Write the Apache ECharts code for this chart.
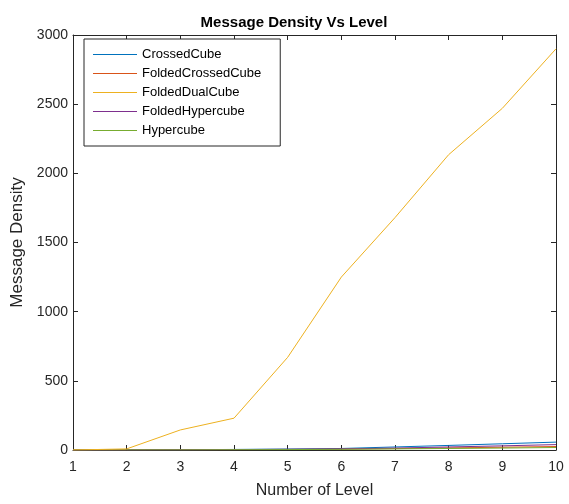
<!DOCTYPE html>
<html>
<head>
<meta charset="utf-8">
<script src="https://cdn.jsdelivr.net/npm/echarts@6/dist/echarts.min.js"></script>
<style>html,body{margin:0;padding:0;background:#fff;}#c{width:569px;height:504px;}</style>
</head>
<body>
<div id="c"></div>
<script>
var levels = [1, 2, 3, 4, 5, 6, 7, 8, 9, 10];
var crossedCube = [0, 1, 2, 4, 7, 11, 22, 33, 45, 57];
var foldedCrossedCube = [0, 1, 2, 3, 4, 6, 10, 15, 20, 25];
var foldedDualCube = [0, 8, 145, 230, 670, 1250, 1680, 2135, 2470, 2900];
var foldedHypercube = [0, 1, 2, 3, 5, 8, 14, 22, 30, 39];
var hypercube = [0, 1, 1, 2, 3, 5, 8, 11, 14, 18];
var seriesNames = ['CrossedCube', 'FoldedCrossedCube', 'FoldedDualCube', 'FoldedHypercube', 'Hypercube'];
var colors = ['#0072BD', '#D95319', '#EDB120', '#7E2F8E', '#77AC30'];

function pairs(arr) { return levels.map(function (x, i) { return [x, arr[i]]; }); }
var allData = [crossedCube, foldedCrossedCube, foldedDualCube, foldedHypercube, hypercube];

var font = 'Liberation Sans, Arial, Helvetica, sans-serif';
var axisColor = '#262626';
var chart = echarts.init(document.getElementById('c'));
var baseAxis = {
  axisLine: { show: true, onZero: false, lineStyle: { color: axisColor, width: 1 } },
  axisTick: { show: true, inside: true, length: 5, lineStyle: { color: axisColor } },
  splitLine: { show: false }
};
chart.setOption({
  animation: false,
  color: colors,
  title: {
    text: 'Message Density Vs Level',
    left: 289, top: 10, textAlign: 'center',
    textStyle: { fontFamily: font, fontSize: 15, fontWeight: 'bold', color: '#000' }
  },
  grid: { left: 73, right: 13, top: 35, bottom: 54 },
  legend: {
    orient: 'vertical', left: 84, top: 39,
    data: seriesNames,
    icon: 'rect',
    itemWidth: 44, itemHeight: 1, itemGap: 6,
    padding: [9, 19, 9, 9],
    borderColor: axisColor, borderWidth: 1, backgroundColor: '#fff',
    textStyle: { fontFamily: font, fontSize: 13, lineHeight: 13, color: '#000' }
  },
  xAxis: [
    Object.assign({}, baseAxis, {
      type: 'value', min: 1, max: 10, interval: 1, position: 'bottom',
      name: 'Number of Level', nameLocation: 'middle', nameGap: 33,
      nameTextStyle: { fontFamily: font, fontSize: 16, color: axisColor },
      axisLabel: { fontFamily: font, fontSize: 14, color: axisColor, margin: 10 }
    }),
    Object.assign({}, baseAxis, {
      type: 'value', min: 1, max: 10, interval: 1, position: 'top',
      axisLabel: { show: false }
    })
  ],
  yAxis: [
    Object.assign({}, baseAxis, {
      type: 'value', min: 0, max: 3000, interval: 500, position: 'left',
      name: 'Message Density', nameLocation: 'middle', nameGap: 37,
      nameTextStyle: { fontFamily: font, fontSize: 17, color: axisColor },
      axisLabel: { fontFamily: font, fontSize: 14, color: axisColor, margin: 5,
        formatter: function (v) { return String(v); } }
    }),
    Object.assign({}, baseAxis, {
      type: 'value', min: 0, max: 3000, interval: 500, position: 'right',
      axisLabel: { show: false }
    })
  ],
  series: seriesNames.map(function (n, i) {
    return {
      name: n, type: 'line', data: pairs(allData[i]),
      symbol: 'none', showSymbol: false,
      lineStyle: { width: 1 }, z: i === 2 ? 3 : 2
    };
  })
});
</script>
</body>
</html>
